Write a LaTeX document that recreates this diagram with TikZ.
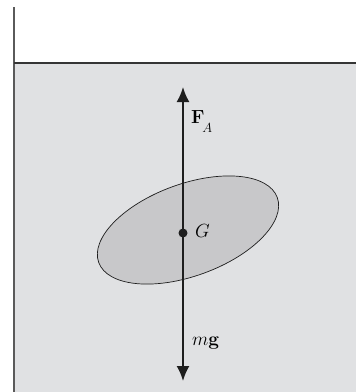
\RequirePackage{fix-cm}
\documentclass[tikz,border=0pt]{standalone}
\usepackage{amsmath}
\usetikzlibrary{arrows.meta}
\definecolor{water}{HTML}{E0E1E3}
\definecolor{body}{HTML}{C8C8CA}
\definecolor{ink}{HTML}{1E1E1E}
\definecolor{wall}{HTML}{5A5A5A}
\newcommand{\bigtxt}{\fontsize{19}{22}\selectfont}
\begin{document}
\begin{tikzpicture}[x=1pt,y=-1pt,
  force/.style={draw=ink,line width=1.9pt,-{Latex[length=15pt,width=13pt]}},
  lbl/.style={inner sep=0pt,anchor=base west}]
\useasboundingbox (0,0) rectangle (356,392);
\fill[water] (14,63) rectangle (356,392);
\draw[wall,line width=2pt] (14,7) -- (14,392);
\draw[ink!90,line width=1.3pt] (14,63) -- (356,63);
\draw[ink,fill=body,line width=0.7pt,rotate around={20:(188,230)}] (188,230) ellipse [x radius=95,y radius=46];
\coordinate (G) at (183,233);
\coordinate (top) at (183,87);
\coordinate (bot) at (183,381);
\draw[force] (G) -- (top);
\draw[force] (G) -- (bot);
\fill[ink] (G) circle (4.5);
\node[lbl] (FA) at (191,123) {\bigtxt$\mathbf{F}_{\!\raisebox{-0.35em}{$\scriptstyle A$}}$};
\node[lbl] (Gl) at (195,237) {\bigtxt$G$};
\node[lbl] (mg) at (192,345) {\bigtxt$m\mathbf{g}$};
\end{tikzpicture}
\end{document}
